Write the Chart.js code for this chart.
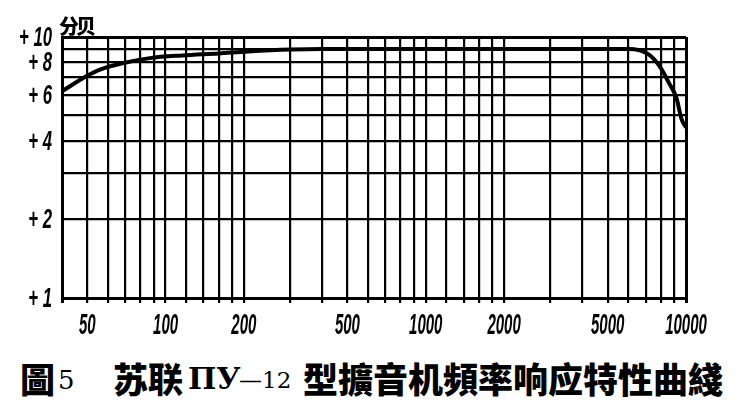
<!DOCTYPE html>
<html>
<head>
<meta charset="utf-8">
<script src="https://cdn.jsdelivr.net/npm/chart.js@4"></script>
<style>
  body { margin: 0; background: #fff; }
  #wrap { position: relative; width: 740px; height: 414px; }
  #freqChart { position: absolute; left: 0; top: 0; }
  .txt { position: absolute; color: #000; white-space: nowrap; font-weight: 900; }
  #unit { left: 59px; top: 11px; font-family: "Noto Sans CJK SC", sans-serif; font-size: 20px; letter-spacing: -3px; }
  .cap { top: 358px; font-family: "Noto Sans CJK TC", sans-serif; font-size: 35px; line-height: 40px; }
  .num { font-family: "DejaVu Serif", serif; font-weight: normal; font-size: 23px; top: 367px; }
  .ru { font-family: "DejaVu Serif", serif; font-weight: bold; font-size: 30px; top: 361px; }
</style>
</head>
<body>
<div id="wrap">
  <canvas id="freqChart" width="740" height="350"></canvas>
  <div class="txt" id="unit">分贝</div>
  <div class="txt cap" style="left:20px">圖</div>
  <div class="txt num" style="left:58px; font-size:26px; top:365px">5</div>
  <div class="txt cap" style="left:113px">苏联</div>
  <div class="txt ru" style="left:188px">ПУ</div>
  <div class="txt num" style="left:239px">—12</div>
  <div class="txt cap" style="left:303px">型擴音机頻率响应特性曲綫</div>
</div>
<script>
// frequency response (Hz -> level on the log grid)
const freqs  = [40, 50, 56, 69, 87, 116, 160, 208, 300, 400, 1000, 3000, 6000, 6600, 7300, 8000, 8600, 9200, 9600, 10000];
const levels = [6.2, 7.1, 7.5, 7.95, 8.3, 8.5, 8.65, 8.8, 8.95, 9.0, 9.0, 9.0, 9.0, 8.9, 8.47, 7.6, 6.67, 5.82, 4.87, 4.5];

// grid lines of the log paper
const xGrid = [40, 50, 60, 70, 80, 90, 100, 120, 140, 160, 180, 200, 300, 400, 500, 600, 700, 800, 900,
               1000, 1200, 1400, 1600, 1800, 2000, 3000, 4000, 5000, 6000, 7000, 8000, 9000, 10000];
const xLabels = [50, 100, 200, 500, 1000, 2000, 5000, 10000];
const yGrid = [1, 2, 3, 4, 5, 6, 7, 8, 9, 10];
const yLabels = [1, 2, 4, 6, 8, 10];

// tall, narrow hand-lettered tick labels
const narrowLabels = {
  id: 'narrowLabels',
  afterDraw(chart) {
    const { ctx, scales: { x, y } } = chart;
    ctx.save();
    ctx.fillStyle = '#000';
    ctx.textBaseline = 'alphabetic';

    ctx.font = 'italic bold 30px "Liberation Sans", sans-serif';
    ctx.textAlign = 'center';
    xLabels.forEach(v => {
      ctx.save();
      ctx.translate(x.getPixelForValue(v), 334);
      ctx.scale(0.5, 1);
      ctx.fillText(String(v), 0, 0);
      ctx.restore();
    });

    ctx.font = 'italic bold 27px "Liberation Sans", sans-serif';
    ctx.textAlign = 'right';
    yLabels.forEach(v => {
      ctx.save();
      ctx.translate(52, y.getPixelForValue(v) + 9);
      ctx.scale(0.62, 1);
      ctx.fillText('+ ' + v, 0, 0);
      ctx.restore();
    });
    ctx.restore();
  }
};

new Chart('freqChart', {
  type: 'line',
  data: {
    datasets: [{
      data: freqs.map((f, i) => ({ x: f, y: levels[i] })),
      borderColor: '#000',
      borderWidth: 4,
      pointRadius: 0,
      cubicInterpolationMode: 'monotone',
      fill: false
    }]
  },
  options: {
    responsive: false,
    animation: false,
    layout: { padding: { top: 37, right: 54, bottom: 12, left: 0 } },
    plugins: { legend: { display: false }, tooltip: { enabled: false } },
    scales: {
      x: {
        type: 'logarithmic',
        min: 40,
        max: 10000,
        afterBuildTicks: s => { s.ticks = xGrid.map(v => ({ value: v })); },
        afterFit: s => { s.height = 40; },
        grid: {
          color: '#000',
          lineWidth: c => (c.tick && (c.tick.value === 10000 || c.tick.value === 40)) ? 3 : 2.2,
          tickLength: 5
        },
        border: { color: '#000', width: 3 },
        ticks: { display: false, autoSkip: false }
      },
      y: {
        type: 'logarithmic',
        min: 1,
        max: 10,
        afterBuildTicks: s => { s.ticks = yGrid.map(v => ({ value: v })); },
        afterFit: s => { s.width = 62; },
        grid: {
          color: '#000',
          lineWidth: c => (c.tick && (c.tick.value === 10 || c.tick.value === 1)) ? 3 : 2.2,
          drawTicks: false
        },
        border: { color: '#000', width: 3 },
        ticks: { display: false, autoSkip: false }
      }
    }
  },
  plugins: [narrowLabels]
});
</script>
</body>
</html>
